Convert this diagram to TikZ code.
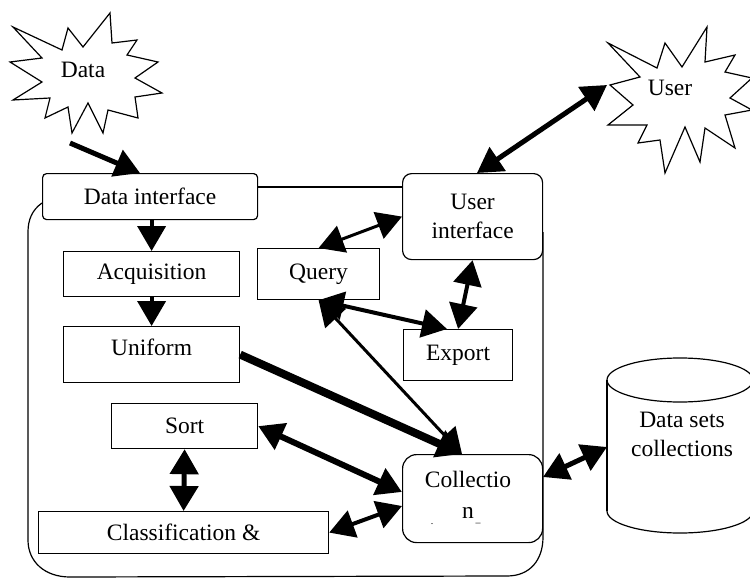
\documentclass[tikz,border=0pt]{standalone}
\usepackage{fontspec}
\setmainfont{Liberation Serif}
\usetikzlibrary{arrows.meta,calc}
\begin{document}
\begin{tikzpicture}[x=1pt,y=-1pt,
  >={Triangle[length=25pt,width=28pt]},
  txt/.style={inner sep=0pt,font=\fontsize{23.5}{29}\selectfont,align=center},
  box/.style={txt,draw,line width=1.2pt,anchor=north west},
  rbox/.style={box,rounded corners=#1},
  thin/.style={line width=1.2pt,line join=miter},
  con/.style={line width=#1}
]
\useasboundingbox (0,0) rectangle (750,578);

% --- cloud-like stars for the two external actors
\draw[thin] (13,27)--(62,50)--(68,28)--(83,47)--(110,13)--(112,43)--(137,40)--(127,55)
  --(158,62)--(135,78)--(162,93)--(135,97)--(138,118)--(108,110)--(103,133)--(88,103)
  --(72,133)--(68,107)--(45,118)--(50,98)--(13,100)--(42,82)--(10,62)--(42,58)--cycle;
\node[txt] (data) at (83,70) {Data};

\draw[thin] (608,43)--(657,68)--(665,43)--(682,67)--(707,27)--(705,62)--(735,55)--(725,72)
  --(752,78)--(730,98)--(752,110)--(725,115)--(735,148)--(705,128)--(700,162)--(685,127)
  --(665,173)--(660,140)--(638,143)--(647,125)--(608,125)--(633,105)--(610,85)--(640,77)--cycle;
\node[txt] (user) at (670,88) {User};

% --- system boundary
\draw[thin] (42,203) .. controls (32,210) and (28,220) .. (28,232) -- (28,540)
  .. controls (28,562) and (45,577) .. (70,577) -- (507,576)
  .. controls (530,576) and (543,560) .. (543,537) -- (543,232);
\draw[thin] (257,187) -- (402,187);

% --- components
\node[rbox=4pt, minimum width=215pt, minimum height=46pt, fill=white] (di) at (42,173) {Data interface};
\node[box, minimum width=176pt, minimum height=45pt] (acq) at (63,251) {Acquisition};
\node[box, minimum width=176pt, minimum height=56pt, text depth=14pt] (uni) at (63,326) {Uniform};
\node[box, minimum width=122pt, minimum height=51pt] (query) at (257,248) {Query};
\node[rbox=9pt, minimum width=140pt, minimum height=86pt, fill=white] (ui) at (402,173) {User\\interface};
\node[box, minimum width=109pt, minimum height=51pt] (export) at (403,329) {Export};
\node[box, minimum width=146pt, minimum height=45pt] (sort) at (111,403) {Sort};
\node[box, minimum width=290pt, minimum height=42pt] (cls) at (38,511) {Classification \&};
\node[rbox=14pt, minimum width=140pt, minimum height=88pt] (col) at (402,454) {};
\node[txt] (coltext) at (468,495) {Collectio\\[2pt]n};
\node[txt,font=\fontsize{10}{10}\selectfont] (cdot) at (432,524) {.};
\node[txt,font=\fontsize{10}{10}\selectfont] (cdash) at (478,523) {\_};

% --- data store
\draw[thin] (607,380) -- (607,511);
\draw[thin] (680,380) ellipse [x radius=73, y radius=22];
\draw[thin] (607,511) arc [start angle=180, end angle=0, x radius=73, y radius=22];
\node[txt] (ds) at (682,434) {Data sets\\collections};

% --- connector end points
\coordinate (datatip) at (70,143);
\coordinate (diin) at (140,173);
\coordinate (userpt) at (607,85);
\coordinate (uitop) at (477,173);
\coordinate (exin) at (447,329);
\coordinate (coltop) at (462,454);
\coordinate (colsort) at (402,492);
\coordinate (colcls) at (402,506);
\coordinate (colright) at (543,477);
\coordinate (dsleft) at (607,447);

% --- connectors
\draw[con=5pt,->] (datatip) -- (diin);
\draw[con=4pt,->] (acq.north |- di.south) -- (acq.north);
\draw[con=4pt,->] (acq.south) -- (uni.north);
\draw[con=5pt,<->] (uitop) -- (userpt);
\draw[con=3pt,<->] (ui.west) -- (query.north);
\draw[con=4pt,<->] (ui.south) -- (export.north);
\draw[con=4pt,<->] (query.south) -- (exin);
\draw[con=3pt,<->] (coltop) -- (query.south);
\draw[con=8pt,->] (uni.east) -- (coltop);
\draw[con=6pt,<->] (sort.east) -- (colsort);
\draw[con=4pt,<->] (cls.east) -- (colcls);
\draw[con=5pt,<->] (sort.south) -- (cls.north);
\draw[con=5pt,<->] (colright) -- (dsleft);
\end{tikzpicture}
\end{document}
